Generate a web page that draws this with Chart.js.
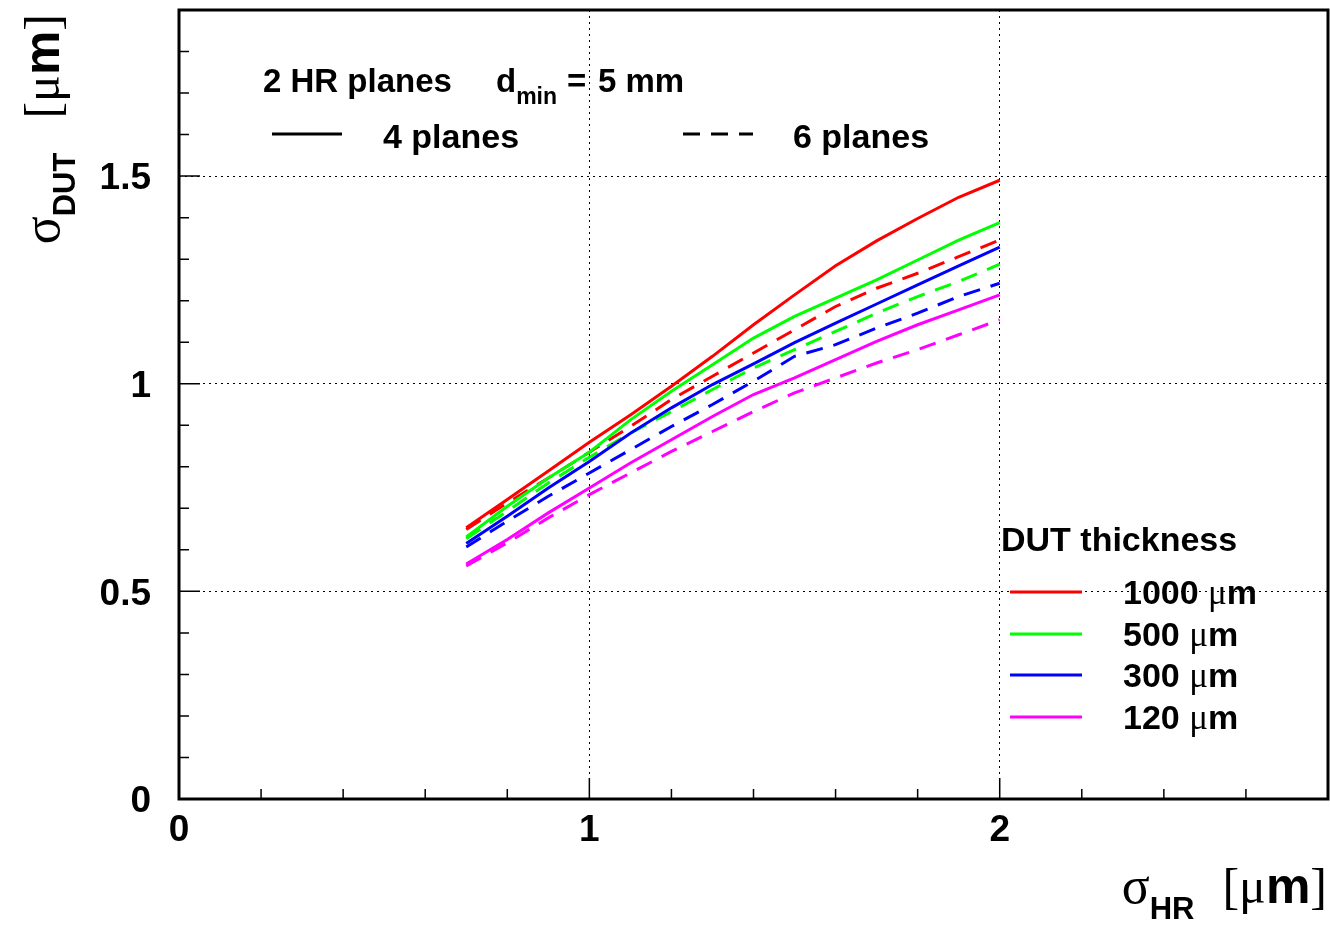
<!DOCTYPE html>
<html>
<head>
<meta charset="utf-8">
<title>sigma_DUT vs sigma_HR</title>
<script src="https://cdn.jsdelivr.net/npm/chart.js@4.4.1/dist/chart.umd.min.js"></script>
<style>
  html, body { margin: 0; padding: 0; background: #fff; }
</style>
</head>
<body>
<canvas id="chart" width="1330" height="925"></canvas>
<script>
// x values: HR plane resolution [um]
const sigmaHR = [0.7, 0.8, 0.9, 1.0, 1.1, 1.2, 1.3, 1.4, 1.5, 1.6, 1.7, 1.8, 1.9, 2.0];

// DUT resolution [um], 4 planes (solid lines)
const fourPl1000 = [0.653, 0.721, 0.790, 0.859, 0.925, 0.994, 1.066, 1.142, 1.214, 1.284, 1.344, 1.398, 1.449, 1.490];
const fourPl500  = [0.631, 0.705, 0.773, 0.835, 0.913, 0.982, 1.046, 1.110, 1.162, 1.206, 1.250, 1.298, 1.346, 1.388];
const fourPl300  = [0.615, 0.681, 0.749, 0.813, 0.881, 0.942, 0.998, 1.048, 1.099, 1.146, 1.192, 1.238, 1.284, 1.329];
const fourPl120  = [0.566, 0.625, 0.689, 0.749, 0.809, 0.865, 0.921, 0.974, 1.014, 1.058, 1.102, 1.142, 1.178, 1.214];

// DUT resolution [um], 6 planes (dashed lines)
const sixPl1000 = [0.649, 0.713, 0.773, 0.835, 0.897, 0.962, 1.018, 1.074, 1.130, 1.186, 1.230, 1.266, 1.306, 1.346];
const sixPl500  = [0.627, 0.693, 0.761, 0.823, 0.881, 0.933, 0.986, 1.038, 1.082, 1.126, 1.170, 1.210, 1.246, 1.288];
const sixPl300  = [0.607, 0.669, 0.729, 0.785, 0.841, 0.897, 0.950, 1.006, 1.066, 1.094, 1.134, 1.170, 1.210, 1.242];
const sixPl120  = [0.561, 0.617, 0.677, 0.733, 0.785, 0.837, 0.885, 0.933, 0.978, 1.014, 1.050, 1.082, 1.118, 1.154];

const thickness = ['1000', '500', '300', '120'];
const colors = ['#ff0000', '#00ff00', '#0000ff', '#ff00ff'];
const fourPlanes = [fourPl1000, fourPl500, fourPl300, fourPl120];
const sixPlanes = [sixPl1000, sixPl500, sixPl300, sixPl120];

const xTickStep = 0.2, yTickStep = 0.1;
const xMax = 2.8, yMax = 1.9;

const SANS = '"Liberation Sans", Arial, sans-serif';
const SERIF = '"Liberation Serif", "DejaVu Serif", serif';
const DASH = [17, 11];

function pts(ys) {
  return sigmaHR.map((x, i) => ({ x: x, y: ys[i] }));
}

const datasets = [];
fourPlanes.forEach((ys, i) => datasets.push({
  label: thickness[i] + ' um, 4 planes', data: pts(ys),
  borderColor: colors[i], borderWidth: 3, pointRadius: 0, fill: false, tension: 0
}));
sixPlanes.forEach((ys, i) => datasets.push({
  label: thickness[i] + ' um, 6 planes', data: pts(ys),
  borderColor: colors[i], borderWidth: 3, borderDash: DASH, pointRadius: 0, fill: false, tension: 0
}));

function near(v, step) {
  return Math.abs(v / step - Math.round(v / step)) < 1e-6;
}

// text pieces {t, f, dy} or {gap}
function runWidth(ctx, runs) {
  let w = 0;
  runs.forEach(r => {
    if (r.gap) { w += r.gap; return; }
    ctx.font = r.f; w += ctx.measureText(r.t).width;
  });
  return w;
}
function drawRuns(ctx, x, y, runs) {
  runs.forEach(r => {
    if (r.gap) { x += r.gap; return; }
    ctx.font = r.f;
    ctx.fillText(r.t, x, y + (r.dy || 0));
    x += ctx.measureText(r.t).width;
  });
}

const rootStyle = {
  id: 'rootStyle',
  afterDraw(chart) {
    const ctx = chart.ctx;
    const a = chart.chartArea;
    const xs = chart.scales.x, ys = chart.scales.y;
    ctx.save();
    ctx.strokeStyle = '#000';
    ctx.fillStyle = '#000';

    // frame
    ctx.lineWidth = 3;
    ctx.setLineDash([]);
    ctx.strokeRect(a.left, a.top, a.right - a.left, a.bottom - a.top);

    // inward ticks, left and bottom only
    ctx.lineWidth = 1.5;
    ctx.beginPath();
    ys.ticks.forEach(t => {
      const py = ys.getPixelForValue(t.value);
      const len = near(t.value, 0.5) ? 21 : 10;
      ctx.moveTo(a.left, py); ctx.lineTo(a.left + len, py);
    });
    xs.ticks.forEach(t => {
      const px = xs.getPixelForValue(t.value);
      const len = near(t.value, 1) ? 21 : 10;
      ctx.moveTo(px, a.bottom); ctx.lineTo(px, a.bottom - len);
    });
    ctx.stroke();

    ctx.textAlign = 'left';
    ctx.textBaseline = 'alphabetic';

    // header legend
    const B33 = 'bold 33px ' + SANS;
    const B34 = 'bold 34px ' + SANS;
    drawRuns(ctx, 263, 92, [{ t: '2 HR planes', f: B33 }]);
    drawRuns(ctx, 496, 92, [{ t: 'd', f: B33 }, { t: 'min', f: 'bold 23px ' + SANS, dy: 12 }]);
    drawRuns(ctx, 567, 92, [{ t: '=', f: B33 }]);
    drawRuns(ctx, 598, 92, [{ t: '5 mm', f: B33 }]);
    ctx.lineWidth = 3;
    ctx.beginPath(); ctx.moveTo(272, 134); ctx.lineTo(342, 134); ctx.stroke();
    drawRuns(ctx, 383, 148, [{ t: '4 planes', f: B34 }]);
    ctx.setLineDash(DASH);
    ctx.beginPath(); ctx.moveTo(683, 134); ctx.lineTo(753, 134); ctx.stroke();
    ctx.setLineDash([]);
    drawRuns(ctx, 793, 148, [{ t: '6 planes', f: B34 }]);

    // thickness legend
    drawRuns(ctx, 1001, 551, [{ t: 'DUT thickness', f: B34 }]);
    const rowY = [592, 634, 675, 717];
    thickness.forEach((th, i) => {
      ctx.strokeStyle = colors[i];
      ctx.beginPath(); ctx.moveTo(1010, rowY[i]); ctx.lineTo(1082, rowY[i]); ctx.stroke();
      drawRuns(ctx, 1123, rowY[i] + 12, [
        { t: th + ' ', f: B34 },
        { t: '\u03bc', f: '35px ' + SERIF },
        { t: 'm', f: B34 }
      ]);
    });

    // axis titles
    const titleRuns = (sub, gap) => [
      { t: '\u03c3', f: '52px ' + SERIF },
      { t: sub, f: 'bold 31px ' + SANS, dy: 16 },
      { gap: gap },
      { t: '[', f: '50px ' + SERIF },
      { t: '\u03bc', f: '50px ' + SERIF },
      { t: 'm', f: 'bold 50px ' + SANS },
      { t: ']', f: '50px ' + SERIF }
    ];
    const xr = titleRuns('HR', 28);
    drawRuns(ctx, 1327 - runWidth(ctx, xr), 903, xr);

    const yr = titleRuns('DUT', 34);
    ctx.translate(59, 14 + runWidth(ctx, yr));
    ctx.rotate(-Math.PI / 2);
    drawRuns(ctx, 0, 0, yr);
    ctx.restore();
  }
};

new Chart(document.getElementById('chart'), {
  type: 'line',
  data: { datasets: datasets },
  options: {
    responsive: false,
    animation: false,
    layout: { padding: { top: 10, right: 2, left: 0, bottom: 0 } },
    plugins: { legend: { display: false }, tooltip: { enabled: false } },
    scales: {
      x: {
        type: 'linear', min: 0, max: xMax,
        afterFit: s => { s.height = 126; s.paddingLeft = 0; s.paddingRight = 0; },
        border: { display: false, dash: [2, 4] },
        grid: {
          drawTicks: false, lineWidth: 1,
          color: c => (c.tick && c.tick.value > 0 && near(c.tick.value, 1)) ? '#000' : 'rgba(0,0,0,0)'
        },
        ticks: {
          stepSize: xTickStep, autoSkip: false, maxRotation: 0, padding: 10, color: '#000',
          font: { family: SANS, weight: 'bold', size: 37 },
          callback: v => near(v, 1) ? String(Math.round(v)) : ''
        }
      },
      y: {
        type: 'linear', min: 0, max: yMax,
        afterFit: s => { s.width = 179; s.paddingTop = 0; s.paddingBottom = 0; },
        border: { display: false, dash: [2, 4] },
        grid: {
          drawTicks: false, lineWidth: 1,
          color: c => (c.tick && c.tick.value > 0 && near(c.tick.value, 0.5)) ? '#000' : 'rgba(0,0,0,0)'
        },
        ticks: {
          stepSize: yTickStep, autoSkip: false, padding: 28, labelOffset: 3, color: '#000',
          font: { family: SANS, weight: 'bold', size: 37 },
          callback: v => near(v, 0.5) ? String(+v.toFixed(1)) : ''
        }
      }
    }
  },
  plugins: [rootStyle]
});
</script>
</body>
</html>
